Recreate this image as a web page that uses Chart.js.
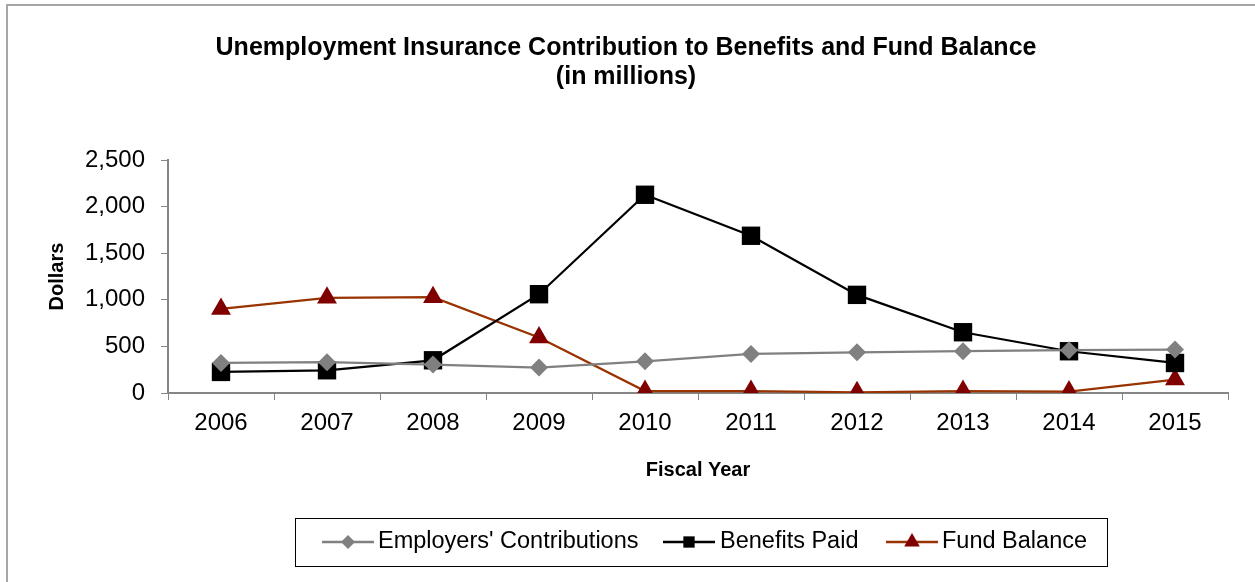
<!DOCTYPE html>
<html>
<head>
<meta charset="utf-8">
<title>Unemployment Insurance Contribution to Benefits and Fund Balance</title>
<script src="https://cdn.jsdelivr.net/npm/chart.js@4/dist/chart.umd.min.js"></script>
<style>
  html, body { margin: 0; padding: 0; background: #fff; }
  #chart { display: block; }
</style>
</head>
<body>
<canvas id="chart" width="1255" height="582"></canvas>
<script>
// values in millions of dollars
const fiscalYears = ["2006", "2007", "2008", "2009", "2010", "2011", "2012", "2013", "2014", "2015"];
const employersContributions = [322, 330, 305, 273, 340, 419, 437, 448, 459, 466];
const benefitsPaid = [226, 244, 351, 1060, 2127, 1687, 1053, 652, 448, 322];
const fundBalance = [902, 1021, 1028, 595, 21, 21, 8, 21, 15, 144];
const dollarTicks = [0, 500, 1000, 1500, 2000, 2500];

const titleLines = ["Unemployment Insurance Contribution to Benefits and Fund Balance", "(in millions)"];
const FONT = "'Liberation Sans', Arial, Helvetica, sans-serif";
const AXIS_GRAY = "#868686";

Chart.defaults.font.family = FONT;
Chart.defaults.color = "#000";

const series = [
  { label: "Employers' Contributions", data: employersContributions, line: "#808080", fill: "#808080", style: "rectRot", radius: 9, legendRadius: 7 },
  { label: "Benefits Paid", data: benefitsPaid, line: "#000000", fill: "#000000", style: "rect", radius: 13, legendRadius: 8 },
  { label: "Fund Balance", data: fundBalance, line: "#993300", fill: "#800000", style: "triangle", radius: 11.5, legendRadius: 9 },
];

// frame, two-line heading and the boxed legend at the bottom
const decorations = {
  id: "decorations",
  beforeDraw(chart) {
    const ctx = chart.ctx;
    ctx.save();
    ctx.fillStyle = "#fff";
    ctx.fillRect(0, 0, chart.width, chart.height);
    ctx.strokeStyle = "#a6a6a6";
    ctx.lineWidth = 2;
    ctx.strokeRect(7, 5, chart.width + 20, chart.height + 20);
    ctx.restore();
  },
  afterDraw(chart) {
    const ctx = chart.ctx;
    ctx.save();
    ctx.fillStyle = "#000";
    ctx.textAlign = "center";
    ctx.textBaseline = "middle";
    ctx.font = "bold 25px " + FONT;
    ctx.fillText(titleLines[0], 626, 48);
    ctx.fillText(titleLines[1], 626, 77);

    // legend box
    ctx.strokeStyle = "#000";
    ctx.lineWidth = 1;
    ctx.strokeRect(295.5, 518.5, 812, 48);

    const items = [
      { x: 322, textX: 378 },
      { x: 663, textX: 720 },
      { x: 886, textX: 942 },
    ];
    const y = 542;
    ctx.font = "23.5px " + FONT;
    ctx.textAlign = "left";
    items.forEach((item, i) => {
      const s = series[i];
      ctx.strokeStyle = s.line;
      ctx.lineWidth = 2.5;
      ctx.beginPath();
      ctx.moveTo(item.x, y);
      ctx.lineTo(item.x + 52, y);
      ctx.stroke();
      ctx.fillStyle = s.fill;
      Chart.helpers.drawPoint(ctx, { pointStyle: s.style, radius: s.legendRadius, rotation: 0, borderWidth: 0 }, item.x + 26, y);
      ctx.fillStyle = "#000";
      ctx.fillText(s.label, item.textX, y);
    });
    ctx.restore();
  },
};

const ctx = document.getElementById("chart").getContext("2d");
const chart = new Chart(ctx, {
  type: "line",
  data: {
    labels: fiscalYears,
    datasets: series.map((s) => ({
      label: s.label,
      data: s.data,
      borderColor: s.line,
      borderWidth: 2.25,
      backgroundColor: s.fill,
      pointStyle: s.style,
      pointRadius: s.radius,
      pointBackgroundColor: s.fill,
      pointBorderColor: s.fill,
      pointBorderWidth: 0,
      tension: 0,
      fill: false,
    })),
  },
  options: {
    responsive: false,
    animation: false,
    layout: { padding: { top: 160, right: 27, left: 0, bottom: 0 } },
    plugins: {
      legend: { display: false },
      title: { display: false },
      tooltip: { enabled: false },
    },
    scales: {
      x: {
        offset: true,
        afterFit: (scale) => { scale.height = 189; },
        grid: { offset: true, drawOnChartArea: false, drawTicks: true, tickLength: 7, color: AXIS_GRAY },
        border: { color: AXIS_GRAY, width: 2 },
        ticks: { font: { size: 24 }, padding: 9, maxRotation: 0 },
        title: { display: true, text: "Fiscal Year", font: { size: 20, weight: "bold" }, padding: { top: 0, bottom: 100 } },
      },
      y: {
        min: 0,
        max: 2500,
        afterFit: (scale) => { scale.width = 168; },
        afterBuildTicks: (scale) => { scale.ticks = dollarTicks.map((v) => ({ value: v })); },
        grid: { drawOnChartArea: false, drawTicks: true, tickLength: 7, color: AXIS_GRAY },
        border: { color: AXIS_GRAY, width: 2 },
        ticks: { font: { size: 24 }, padding: 16, callback: (v) => v.toLocaleString("en-US") },
        title: { display: true, text: "Dollars", font: { size: 20, weight: "bold" }, padding: { top: 45, bottom: 0 } },
      },
    },
  },
  plugins: [decorations],
});
</script>
</body>
</html>
